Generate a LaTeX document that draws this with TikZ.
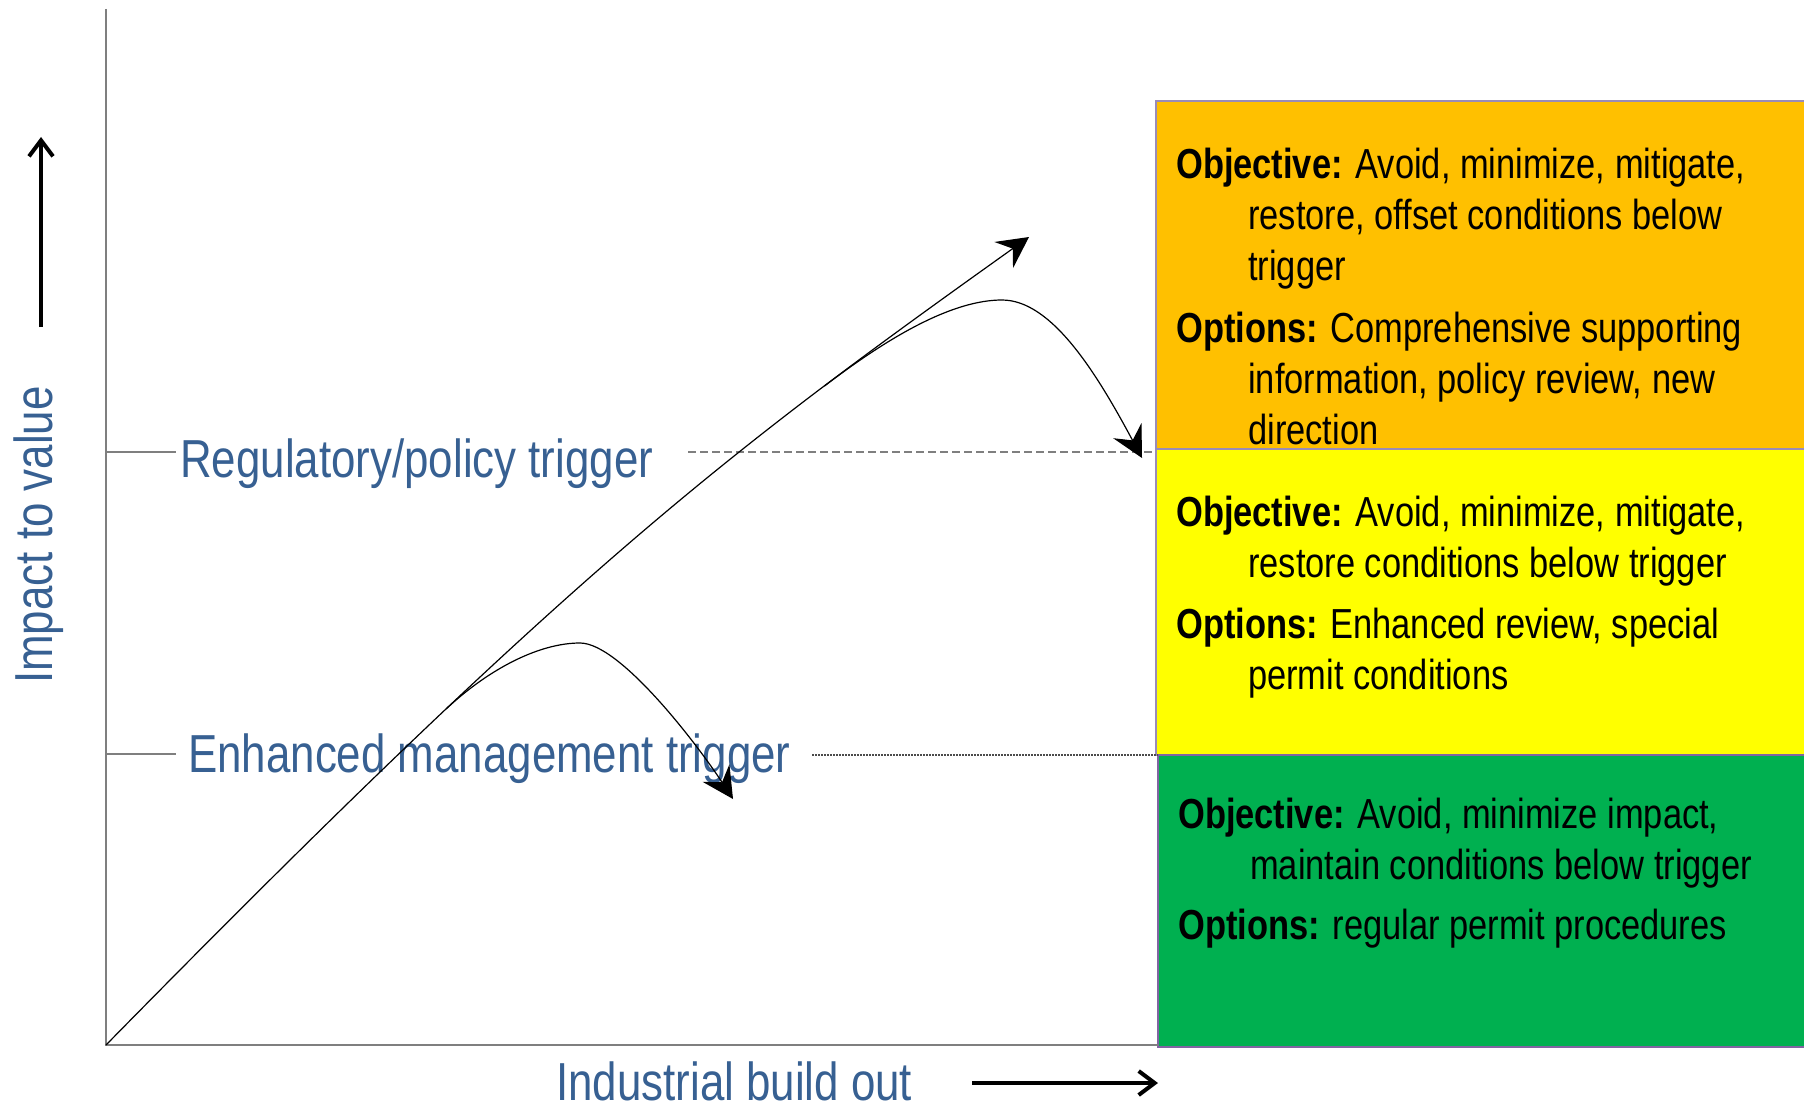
\documentclass[tikz,border=0pt]{standalone}
\usepackage{fontspec}
\newfontfamily\nar[FakeStretch=0.82]{Liberation Sans}
\usetikzlibrary{arrows.meta}
\definecolor{lblue}{HTML}{376092}
\definecolor{orangebox}{HTML}{FFC000}
\definecolor{yellowbox}{HTML}{FFFF00}
\definecolor{greenbox}{HTML}{00B050}
\definecolor{edgeA}{HTML}{9A8CB8}
\definecolor{edgeB}{HTML}{8064A2}
\definecolor{axisgray}{HTML}{7F7F7F}
\begin{document}
\begin{tikzpicture}[x=1pt,y=-1pt,
  axisline/.style={draw=axisgray,line width=1.5pt},
  curvearrow/.style={line width=1.2pt,-{Stealth[length=31pt,width=32pt,inset=11pt]}},
  bigarrow/.style={line width=4pt,-{Straight Barb[length=16pt,width=24pt]}},
  lbl/.style={text=lblue,font=\nar\fontsize{53.5}{64}\selectfont,inner sep=0pt},
  boxtxt/.style={font=\nar\fontsize{42}{51}\selectfont,align=left,inner sep=0pt,anchor=north west},
  zone/.style={line width=1.8pt},
]
\useasboundingbox (0,0) rectangle (1804,1113);
\begin{scope}
\clip (0,0) rectangle (1804,1113);
% zones
\filldraw[zone,fill=orangebox,draw=edgeA] (1156,101) rectangle (1830,449);
\filldraw[zone,fill=yellowbox,draw=edgeA] (1156,449) rectangle (1830,755);
\filldraw[zone,fill=greenbox,draw=edgeB] (1158,755) rectangle (1830,1047);
\end{scope}

% axes
\coordinate (O) at (106,1045);
\coordinate (Ytop) at (106,9);
\coordinate (Xend) at (1158,1045);
\draw[axisline] (Ytop) -- (O) -- (Xend);

% trigger lines
\coordinate (r0) at (106,452);
\coordinate (r1) at (176,452);
\coordinate (r2) at (688,452);
\coordinate (r3) at (1155,452);
\draw[axisline] (r0) -- (r1);
\draw[draw=axisgray,line width=1.5pt,dash pattern=on 8pt off 4pt] (r2) -- (r3);
\coordinate (e0) at (106,754);
\coordinate (e1) at (176,754);
\coordinate (e2) at (812,755);
\coordinate (e3) at (1158,755);
\draw[axisline] (e0) -- (e1);
\draw[draw=black!70,line width=1.3pt,dash pattern=on 1.5pt off 1.5pt] (e2) -- (e3);

% labels
\node[lbl,anchor=base west] (reg) at (180,477) {Regulatory/policy trigger};
\node[lbl,anchor=base west] (enh) at (188,772) {Enhanced management trigger};
\node[lbl,anchor=base west] (ind) at (556,1100) {Industrial build out};
\node[lbl,anchor=base west,rotate=90] (imp) at (52,684) {Impact to value};

% direction arrows
\coordinate (ua0) at (41,327);
\coordinate (ua1) at (41,137);
\draw[bigarrow] (ua0) -- (ua1);
\coordinate (ra0) at (972,1083);
\coordinate (ra1) at (1158,1083);
\draw[bigarrow] (ra0) -- (ra1);

% box texts
\node[boxtxt] (objA) at (1176,143) {\rule{0pt}{35pt}\textbf{Objective:} Avoid, minimize, mitigate,\\
\hspace*{72pt}restore, offset conditions below\\
\hspace*{72pt}trigger\\[11pt]
\textbf{Options:} Comprehensive supporting\\
\hspace*{72pt}information, policy review, new\\
\hspace*{72pt}direction};
\node[boxtxt] (objB) at (1176,491) {\rule{0pt}{35pt}\textbf{Objective:} Avoid, minimize, mitigate,\\
\hspace*{72pt}restore conditions below trigger\\[10pt]
\textbf{Options:} Enhanced review, special\\
\hspace*{72pt}permit conditions};
\node[boxtxt] (objC) at (1178,793) {\rule{0pt}{35pt}\textbf{Objective:} Avoid, minimize impact,\\
\hspace*{72pt}maintain conditions below trigger\\[9pt]
\textbf{Options:} regular permit procedures};

% curves
\coordinate (T) at (1029,237);
\path (O) .. controls (576,566) and (729,451) .. (T)
  coordinate[pos=0.29] (lowStart) coordinate[pos=0.75] (upStart);
\draw[curvearrow] (O) .. controls (576,566) and (729,451) .. (T);
\coordinate (lowPeak) at (580,643);
\coordinate (lowEnd) at (733,799);
\draw[curvearrow] (lowStart) .. controls +(44,-41) and +(-40,0) .. (lowPeak)
  .. controls +(40,0) and +(-36,-55) .. (lowEnd);
\coordinate (upPeak) at (1002,300);
\coordinate (upEnd) at (1142,458);
\draw[curvearrow] (upStart) .. controls +(64,-49) and +(-50,0) .. (upPeak)
  .. controls +(50,0) and +(-45,-84) .. (upEnd);
\end{tikzpicture}
\end{document}
